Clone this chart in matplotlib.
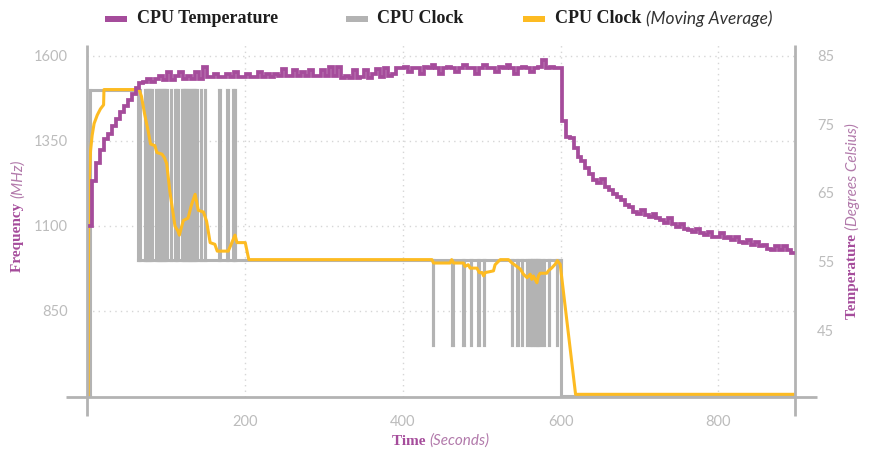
import numpy as np
import matplotlib
matplotlib.use("Agg")
import matplotlib.pyplot as plt
from matplotlib.patches import Rectangle
from matplotlib.collections import LineCollection

# ---------------------------------------------------------------------------
# Data
# ---------------------------------------------------------------------------
# CPU temperature (deg C), one reading every 5 s starting at t = 4 s
temp_start_s = 4
temp_step_s = 5
cpu_temp_c = [
    60.2, 66.8, 69.3, 71.3, 72.8, 73.6, 74.7, 75.8, 76.8, 77.6,   # 4-49 s
    78.6, 79.4, 80.3, 81.0, 81.1, 81.6, 81.1, 81.6, 82.1, 81.4,   # 54-99
    82.6, 81.4, 82.1, 82.6, 81.6, 82.1, 81.6, 82.6, 81.6, 83.3,   # 104-149
    81.9, 81.9, 82.4, 81.9, 81.9, 82.4, 81.9, 82.6, 81.9, 81.9,   # 154-199
    82.4, 81.9, 81.9, 82.6, 81.9, 82.4, 81.9, 82.4, 82.1, 83.1,   # 204-249
    82.1, 82.1, 82.9, 82.1, 82.6, 82.1, 82.9, 82.1, 82.1, 82.9,   # 254-299
    82.1, 83.3, 82.1, 83.4, 81.8, 82.1, 81.7, 82.9, 81.7, 81.9,   # 304-349
    82.9, 81.7, 82.4, 83.1, 81.9, 83.2, 82.1, 82.4, 83.2, 83.2,   # 354-399
    83.4, 82.6, 83.2, 83.2, 82.4, 83.4, 83.2, 83.6, 83.2, 82.4,   # 404-449
    83.2, 83.4, 83.2, 82.6, 83.2, 83.6, 83.2, 83.2, 82.4, 83.2,   # 454-499
    83.6, 83.2, 83.2, 82.6, 83.4, 83.2, 83.6, 83.2, 82.4, 83.2,   # 504-549
    83.4, 83.2, 82.6, 83.2, 83.4, 84.4, 83.2, 83.4, 83.2, 83.2,   # 554-599
    75.5, 73.2, 73.0, 71.5, 70.3, 69.6, 68.6, 67.8, 66.9, 66.4,   # 604-649
    67.1, 65.9, 65.4, 64.9, 64.4, 64.0, 63.2, 63.0, 62.2, 62.0,   # 654-699
    62.5, 61.8, 61.5, 62.0, 61.3, 61.0, 60.6, 61.3, 60.4, 60.1,   # 704-749
    60.4, 59.8, 59.6, 59.3, 59.8, 59.1, 58.9, 59.3, 58.6, 58.6,   # 754-799
    59.1, 58.4, 58.6, 58.1, 58.6, 57.9, 57.7, 58.1, 57.4, 57.9,   # 804-849
    57.2, 57.4, 56.8, 56.7, 57.2, 56.7, 57.2, 56.7, 56.2,         # 854-894
]

# CPU clock (MHz): (time in s, new clock value) at every change
clock_changes = [
    (3, 600), (4, 1500),
    (65, 1000), (66, 1500), (67, 1000),
    (73, 1500), (74, 1000), (75, 1500), (76, 1000), (77, 1500), (78, 1000),
    (79, 1500), (80, 1000), (81, 1500), (82, 1000),
    (88, 1500), (89, 1000), (90, 1500), (91, 1000), (92, 1500), (93, 1000),
    (94, 1500), (95, 1000), (96, 1500), (97, 1000), (98, 1500), (99, 1000),
    (100, 1500), (101, 1000),
    (106, 1500), (107, 1000),
    (112, 1500), (113, 1000), (114, 1500), (115, 1000),
    (120, 1500), (121, 1000), (122, 1500), (123, 1000), (124, 1500), (125, 1000),
    (126, 1500), (127, 1000), (128, 1500), (129, 1000), (130, 1500), (131, 1000),
    (132, 1500), (133, 1000), (134, 1500), (135, 1000), (136, 1500), (137, 1000),
    (138, 1500), (139, 1000),
    (144, 1500), (145, 1000),
    (149, 1500), (150, 1000),
    (167, 1500), (168, 1000),
    (178, 1500), (179, 1000),
    (185, 1500), (186, 1000), (187, 1500), (188, 1000),
    (438, 750), (438.6, 1000), (463, 750), (463.6, 1000), (477, 750), (477.6, 1000),
    (486, 750), (486.6, 1000), (496, 750), (496.6, 1000), (503, 750), (503.6, 1000),
    (538, 750), (538.6, 1000), (545, 750), (545.6, 1000), (551, 750), (551.6, 1000),
    (557, 750), (557.6, 1000), (561, 750), (561.6, 1000), (563, 750), (563.6, 1000),
    (565, 750), (565.6, 1000), (567, 750), (567.6, 1000), (569, 750), (569.6, 1000),
    (571, 750), (571.6, 1000), (573, 750), (573.6, 1000), (578, 750), (578.6, 1000),
    (585, 750), (585.6, 1000), (595, 750), (595.6, 1000),
    (600.5, 600), (895, 600),
]

# Moving average of the CPU clock (MHz): (time in s, value)
clock_moving_avg = [
    (1.5, 600), (2, 1100), (3, 1240), (4.5, 1320), (6.5, 1365), (9, 1400),
    (13, 1425), (17, 1443), (21, 1455), (21.5, 1500), (66, 1500), (69, 1480),
    (73, 1428), (77.5, 1378), (80.5, 1340), (86, 1335), (88.5, 1315), (95, 1310),
    (98, 1300), (101, 1282), (105, 1200), (111.5, 1098), (115, 1085), (117, 1072),
    (122, 1115), (128, 1122), (132.5, 1162), (137, 1192), (141, 1145), (147.5, 1140),
    (151.5, 1113), (156, 1050), (162, 1045), (165, 1025), (179, 1025), (183.5, 1050),
    (187.5, 1072), (190, 1050), (200.5, 1050), (205, 1000), (437, 1000), (439, 990),
    (460, 990), (462, 1000), (464.5, 990), (477, 990), (479, 980), (483, 985),
    (485.5, 975), (494, 975), (497, 962), (500.5, 962), (502.5, 952), (504.5, 962),
    (509, 964), (515, 967), (517, 985), (523.5, 1000), (534, 1000), (538.5, 990),
    (544.5, 980), (549, 972), (553, 957), (557.5, 947), (561.5, 957), (563.5, 942),
    (565.5, 952), (570, 932), (572, 952), (574, 960), (582.5, 960), (584.5, 967),
    (589, 976), (593, 986), (596, 997), (599.5, 986), (619, 604), (895, 604),
]

freq_ticks = [850, 1100, 1350, 1600]
temp_ticks = [45, 55, 65, 75, 85]
time_ticks = [200, 400, 600, 800]

# ---------------------------------------------------------------------------
# Style
# ---------------------------------------------------------------------------
PURPLE = "#a54c9b"
GRAY = "#b3b3b3"
YELLOW = "#fdbb22"
TICK_COLOR = "#bcbcbc"
GRID_COLOR = "#d6d6d6"
SERIF = ["Liberation Serif", "DejaVu Serif"]
SANS = ["Lato", "DejaVu Sans"]

W, H = 872, 449
fig = plt.figure(figsize=(W / 100, H / 100), dpi=100)

ax_left, ax_right, ax_top, ax_bottom = 87, 795, 45, 396.7


def fx(x):
    return x / W


def fy(y):
    return 1 - y / H


ax = fig.add_axes([fx(ax_left), fy(ax_bottom), (ax_right - ax_left) / W,
                   (ax_bottom - ax_top) / H])
ax2 = ax.twinx()

LW = 2.2

# Clock (gray): each hold and each change is its own segment, so the
# rapid toggles render as a solid band instead of cancelling out.
clock_t, clock_mhz = zip(*clock_changes)
segments = []
for i in range(1, len(clock_t)):
    t0, v0 = clock_t[i - 1], clock_mhz[i - 1]
    t1, v1 = clock_t[i], clock_mhz[i]
    segments.append([(t0, v0), (t1, v0)])
    segments.append([(t1, v0), (t1, v1)])
ax.add_collection(LineCollection(segments, colors=GRAY, linewidths=LW,
                                 capstyle="projecting", zorder=3))

# Moving average (yellow) on the frequency axis
ma_t, ma_mhz = zip(*clock_moving_avg)
ax.plot(ma_t, ma_mhz, color=YELLOW, lw=LW, zorder=4)

# Temperature (purple) on the right axis
temp_t = temp_start_s + temp_step_s * np.arange(len(cpu_temp_c))
ax2.plot(temp_t, cpu_temp_c, drawstyle="steps-mid", color=PURPLE, lw=2.7,
         solid_joinstyle="miter")

ax.set_xlim(0, 897)
ax.set_ylim(597, 1631)
ax2.set_ylim(35.3, 86.56)

ax.set_xticks(time_ticks)
ax.set_yticks(freq_ticks)
ax2.set_yticks(temp_ticks)

for a in (ax, ax2):
    for s in a.spines.values():
        s.set_visible(False)
    a.set_facecolor("none")

ax.tick_params(axis="both", length=0, labelcolor=TICK_COLOR, labelsize=10.5)
ax.tick_params(axis="y", pad=14)
ax.tick_params(axis="x", pad=13)
ax2.tick_params(axis="y", length=0, labelcolor=TICK_COLOR, labelsize=10.5, pad=16)
for lab in ax.get_xticklabels() + ax.get_yticklabels() + ax2.get_yticklabels():
    lab.set_family(SANS)

ax.grid(True, color=GRID_COLOR, lw=1.0, linestyle=(0, (1, 3)), zorder=0)
ax.set_axisbelow(True)

# Axis lines that run past the plot area
ext_y = 19.3 / (ax_bottom - ax_top)
ax.plot([0, 0], [-ext_y, 1], transform=ax.transAxes, color=GRAY, lw=2,
        clip_on=False, zorder=5, solid_capstyle="butt")
ax.plot([1, 1], [-ext_y, 1], transform=ax.transAxes, color=GRAY, lw=2,
        clip_on=False, zorder=5, solid_capstyle="butt")
ax.plot([-21 / (ax_right - ax_left), 1 + 22 / (ax_right - ax_left)], [0, 0],
        transform=ax.transAxes, color=GRAY, lw=2, clip_on=False, zorder=5,
        solid_capstyle="butt")

# ---------------------------------------------------------------------------
# Text helpers
# ---------------------------------------------------------------------------
fig.canvas.draw()
renderer = fig.canvas.get_renderer()


def text_run(x, y, parts, rotation=0, ha="left", va="center"):
    """Place consecutive text pieces with different styles along a line.

    Horizontal runs: x, y are pixels from the top-left corner.
    Rotated runs: x is the pixel column, y is the pixel centre measured
    from the top of the figure.
    """
    artists = [fig.text(0, 0, txt, rotation=rotation, **kw) for txt, kw in parts]
    sizes = []
    for a in artists:
        bb = a.get_window_extent(renderer)
        sizes.append(bb.height if rotation == 90 else bb.width)
    total = sum(sizes)
    if rotation == 90:
        pos = (H - y) - total / 2
        for a, s in zip(artists, sizes):
            a.set_position((fx(x), pos / H))
            a.set_ha("center")
            a.set_va("bottom")
            pos += s
    else:
        pos = x - total / 2 if ha == "center" else x
        for a, s in zip(artists, sizes):
            a.set_position((pos / W, fy(y)))
            a.set_ha("left")
            a.set_va(va)
            pos += s
    return artists


bold_purple = dict(family=SERIF, fontweight="bold", color=PURPLE, fontsize=11)
ital_purple = dict(family=SANS, fontstyle="italic", color="#b27aab", fontsize=11)

centre_y = (ax_top + ax_bottom) / 2
text_run(18, centre_y - 5, [("Frequency ", bold_purple), ("(MHz)", ital_purple)],
         rotation=90)
text_run(852, centre_y, [("Temperature ", bold_purple),
                         ("(Degrees Celsius)", ital_purple)], rotation=90)

# x label, sitting at the bottom edge
text_run(441, 448, [("Time ", bold_purple), ("(Seconds)", ital_purple)],
         ha="center", va="bottom")

# Legend
legend_y = 18.5
leg_bold = dict(family=SERIF, fontweight="bold", color="#1e1e1e", fontsize=13)
leg_ital = dict(family=SANS, fontstyle="italic", color="#333333", fontsize=12.5)
for x0, col in ((105, PURPLE), (346, GRAY), (523, YELLOW)):
    fig.add_artist(Rectangle((fx(x0), fy(legend_y + 3)), 22 / W, 6 / H,
                             transform=fig.transFigure, color=col, lw=0))
text_run(137, legend_y, [("CPU Temperature", leg_bold)])
text_run(377, legend_y, [("CPU Clock", leg_bold)])
text_run(555, legend_y, [("CPU Clock ", leg_bold), ("(Moving Average)", leg_ital)])

fig.savefig("out.png", dpi=100)
